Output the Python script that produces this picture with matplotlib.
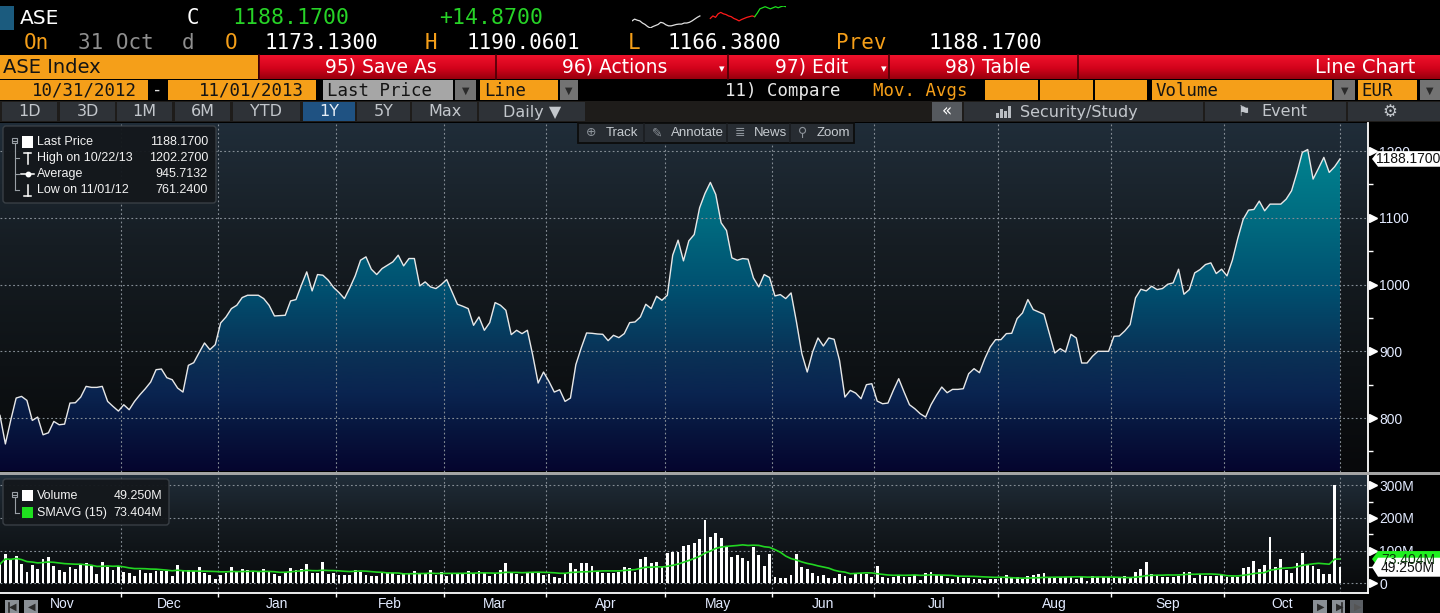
import numpy as np
import pandas as pd
import matplotlib
matplotlib.use("Agg")
import matplotlib.pyplot as plt
from matplotlib.patches import Rectangle, Polygon, FancyBboxPatch
import matplotlib.transforms as mtransforms

# ------------------------------------------------------------------ data
start_date = "2012-10-31"
end_date = "2013-10-31"
holidays = ["2012-12-24", "2012-12-25", "2012-12-26", "2013-01-01", "2013-03-18",
            "2013-03-25", "2013-05-01", "2013-05-03", "2013-05-06", "2013-06-24",
            "2013-08-15", "2013-10-28"]

price = [804, 761.24, 797, 830, 832.5, 826.5, 796.5, 801.5, 775, 778,
         795, 790, 791, 822.5, 823, 831.5, 847.5, 846, 846, 847.5,
         825, 817.5, 810.5, 820, 812.5, 825, 835, 844, 854, 872.5,
         873.5, 860.5, 857.5, 845, 839, 879, 883, 898, 912.5, 902.5,
         910, 942.5, 951.5, 964, 969, 980.5, 984, 984, 984, 979, 969,
         953, 953.5, 954, 975.5, 977.5, 999, 1019, 990.5, 1015, 1014,
         1006.5, 995.5, 988, 979, 995, 1013, 1036.5, 1041.5, 1023, 1015,
         1024, 1029, 1034, 1044, 1028, 1039, 1039, 998, 1004, 996.5,
         994, 1000, 1007.5, 989, 970.5, 967.5, 964, 939, 951.5,
         931.5, 943, 973, 969, 961.5, 925, 931.5, 926.5, 931.5, 894,
         852.5, 869, 855, 839, 842.5, 825, 830, 880, 905, 927.5,
         927, 926, 925.5, 916, 924, 920.5, 926.5, 943, 944, 951.5, 970.5,
         964, 982.5, 976.5, 984, 1044, 1066.5, 1035.5, 1065.5, 1075, 1115,
         1136.5, 1153, 1135, 1092.5, 1081, 1040, 1036.5, 1039, 1038, 1010,
         996.5, 1015, 1010.5, 983, 985, 979, 987.5, 944, 896.5, 869,
         899, 920, 908, 920, 918, 886.5, 831.5, 841.5, 837.5, 829,
         850, 851.5, 825.5, 821.5, 822.5, 841.5, 859, 839, 820, 814,
         806.5, 801.5, 820, 834, 846.5, 838, 843, 843,
         844, 866.5, 874, 868, 889, 906.5, 917.5, 917.5, 926.5, 927,
         949, 957.5, 977.5, 962.5, 959, 955.5, 926.5, 897.5, 904, 899,
         925.5, 920, 882.5, 882.5, 892.5, 900, 900, 900, 922.5, 923, 930.5,
         940, 980, 993, 990.5, 997.5, 992.5, 994, 1000.5, 1002.5, 1023,
         985.5, 992.5, 1017.5, 1022.5, 1030, 1032.5, 1016.5, 1023, 1013, 1036.5,
         1069, 1097.5, 1111.5, 1112.5, 1125, 1110.5, 1120.5, 1120.5, 1120.5, 1128, 1140.5,
         1167.5, 1198, 1202.27, 1158, 1174, 1190.5, 1168, 1176.5, 1188.17]

volume = [59, 90, 71, 84, 59, 36, 56, 44, 74, 80,
          53, 41, 36, 50, 44, 59, 62, 53, 29, 65,
          51, 41, 54, 36, 33, 22, 41, 30, 33, 39,
          39, 39, 22, 55, 41, 41, 39, 50, 33, 26,
          14, 26, 30, 49, 34, 43, 41, 36, 39, 45,
          39, 27, 22, 35, 46, 41, 43, 58, 33, 30,
          65, 28, 33, 26, 26, 26, 41, 35, 26, 22,
          22, 33, 31, 33, 24, 28, 31, 38, 31, 30,
          41, 26, 36, 22, 28, 28, 31, 38, 30, 38,
          31, 22, 33, 41, 61, 33, 28, 22, 33, 36,
          33, 26, 28, 18, 15, 29, 61, 43, 61, 61,
          53, 39, 33, 33, 33, 36, 49, 46, 36, 74,
          80, 61, 65, 49, 94, 97, 97, 114, 117, 124,
          136, 194, 143, 155, 138, 112, 79, 87, 77, 68,
          110, 86, 53, 90, 18, 17, 17, 26, 90, 51,
          44, 31, 22, 26, 15, 15, 29, 22, 17, 33,
          33, 28, 20, 53, 20, 17, 18, 26, 20, 20,
          26, 10, 31, 35, 26, 26, 17, 14, 22,
          17, 15, 12, 12, 10, 12, 14, 17, 24, 18, 18,
          13, 22, 24, 28, 31, 18, 18, 18, 18, 18,
          13, 18, 8, 22, 18, 18, 18, 18, 18, 22,
          18, 35, 44, 65, 29, 22, 18, 18, 18, 22,
          35, 35, 15, 28, 22, 22, 22, 24, 20, 18,
          20, 48, 51, 68, 45, 56, 143, 51, 74, 41,
          33, 61, 94, 56, 53, 44, 29, 29, 300, 49.25]

sma_window = 15
month_labels = ["Nov", "Dec", "Jan", "Feb", "Mar", "Apr", "May", "Jun",
                "Jul", "Aug", "Sep", "Oct"]
price_ticks = [800, 900, 1000, 1100, 1200]
price_minor = [750, 850, 950, 1050, 1150]
volume_ticks = [0, 100, 200, 300]
volume_minor = [50, 150, 250]

legend_rows = [("Last Price", "1188.1700"), ("High on 10/22/13", "1202.2700"),
               ("Average", "945.7132"), ("Low on 11/01/12", "761.2400")]
vol_legend_rows = [("Volume", "49.250M"), ("SMAVG (15)", "73.404M")]
last_price_tag = "1188.1700"
last_vol_tag = "49.250M"
sma_tag = "73.404M"

spark_white = [38, 43, 40, 38, 32, 28, 22, 18, 22, 25, 28, 34, 32, 27, 24, 24, 26,
               28, 29, 29, 32, 32, 34, 38, 43, 48, 52]
spark_red = [45, 52, 48, 58, 62, 58, 56, 52, 50, 45, 42, 38, 42, 45, 48, 50, 52, 50]
spark_green = [50, 60, 72, 75, 78, 75, 72, 75, 78, 75, 78, 80, 78]

# ------------------------------------------------------------------ setup
W, H = 1440, 613
fig = plt.figure(figsize=(W / 100, H / 100), dpi=100, facecolor="black")

MONO = "DejaVu Sans Mono"
UI = "DejaVu Sans"
CH = "Liberation Sans"
ORANGE = "#f59f19"
GREEN_TXT = "#27d327"
TICKC = "#e2eaff"

dates = pd.bdate_range(start_date, end_date)
dates = dates[~dates.isin(pd.to_datetime(holidays))]
assert len(dates) == len(price) == len(volume), (len(dates), len(price), len(volume))
x = np.arange(len(dates))
sma = pd.Series(volume).rolling(sma_window, min_periods=1).mean().values

per = dates.to_period("M")
month_start = [i for i in range(1, len(dates)) if per[i] != per[i - 1]]
edges = [s - 0.5 for s in month_start] + [x[-1]]
bounds = edges[1:]                      # grid lines (Dec..Oct starts + last day)
label_pos = [(edges[i] + edges[i + 1]) / 2 for i in range(len(edges) - 1)]

PX_LAST = 1340.0
xmax = x[-1] / PX_LAST * 1368.0


def fig_axes(x0, y0, x1, y1, **kw):
    return fig.add_axes([x0 / W, 1 - y1 / H, (x1 - x0) / W, (y1 - y0) / H], **kw)


def hexrgb(c):
    c = c.lstrip("#")
    return np.array([int(c[i:i + 2], 16) / 255 for i in (0, 2, 4)])


def vgrad(stops, n=128):
    """stops: list of (pos, color) from top(0) to bottom(1) -> (n,1,3) array"""
    pos = np.array([s[0] for s in stops])
    cols = np.array([hexrgb(s[1]) for s in stops])
    t = np.linspace(0, 1, n)
    arr = np.stack([np.interp(t, pos, cols[:, k]) for k in range(3)], axis=-1)
    return arr.reshape(n, 1, 3)


# ------------------------------------------------------------------ background chrome
bg = fig.add_axes([0, 0, 1, 1])
bg.set_axis_off()
bg.set_zorder(0)


def rect(ax, x0, y0, x1, y1, **kw):
    ax.add_patch(Rectangle((x0, y0), x1 - x0, y1 - y0, **kw))


def txt(ax, xx, yy, s, size, color, family, ha="left", va="center", **kw):
    ax.text(xx, yy, s, fontsize=size, color=color, family=family, ha=ha, va=va, **kw)


# row 1
rect(bg, 0, 6, 14, 30, color="#1b5b7e", lw=0)
txt(bg, 20, 18.5, "ASE", 14.5, "white", UI)
txt(bg, 193, 18.5, "C", 15, "white", MONO, ha="center")
txt(bg, 291, 18.5, "1188.1700", 15.5, GREEN_TXT, MONO, ha="center")
txt(bg, 491, 18.5, "+14.8700", 15.5, GREEN_TXT, MONO, ha="center")

# row 2
row2 = [("On", 36, ORANGE), ("31 Oct", 116, "#8f8f8f"), ("d", 188, "#8f8f8f"),
        ("O", 231, ORANGE), ("1173.1300", 321, "white"), ("H", 431, ORANGE),
        ("1190.0601", 523, "white"), ("L", 634, ORANGE), ("1166.3800", 724, "white"),
        ("Prev", 861, ORANGE), ("1188.1700", 985, "white")]
for s, cx, c in row2:
    txt(bg, cx, 43, s, 15, c, MONO, ha="center")

# row 3
rect(bg, 0, 55, 258, 79, color=ORANGE, lw=0)
txt(bg, 3, 67.5, "ASE Index", 14, "#141414", UI)
bg.imshow(vgrad([(0, "#f0122c"), (0.55, "#d2031b"), (1, "#96000d")]),
          extent=[259, 1440, 79, 55], aspect="auto", interpolation="bilinear", zorder=1)
for sx in [259, 496, 728, 889, 1078]:
    bg.plot([sx, sx], [55, 79], color="#4a0006", lw=1.2, zorder=2)
for s, cx in [("95) Save As", 381), ("96) Actions", 615), ("97) Edit", 812), ("98) Table", 988)]:
    txt(bg, cx, 67, s, 13.5, "white", UI, ha="center", zorder=3)
for ax_ in [722, 884]:
    txt(bg, ax_, 69, "▾", 8, "white", UI, ha="center", zorder=3)
txt(bg, 1415, 67.5, "Line Chart", 14, "white", UI, ha="right", zorder=3)

# row 4
for x0, x1 in [(0, 148), (168, 316), (480, 558), (985, 1038), (1040, 1093), (1095, 1147),
               (1152, 1332), (1358, 1417)]:
    rect(bg, x0, 80, x1, 100, color=ORANGE, lw=0)
rect(bg, 323, 80, 453, 100, color="#a6a6a6", lw=0)
for x0, x1 in [(455, 476), (560, 578), (1334, 1355), (1420, 1440)]:
    rect(bg, x0, 80, x1, 100, color="#737373", lw=0)
    txt(bg, (x0 + x1) / 2, 90.5, "▼", 7, "#2a2a2a", UI, ha="center")
txt(bg, 84, 90.5, "10/31/2012", 12.5, "#141414", MONO, ha="center")
txt(bg, 157, 90, "-", 12.5, "#dddddd", MONO, ha="center")
txt(bg, 251, 90.5, "11/01/2013", 12.5, "#141414", MONO, ha="center")
txt(bg, 327, 90.5, "Last Price", 12.5, "#141414", MONO)
txt(bg, 484, 90.5, "Line", 12.5, "#141414", MONO)
txt(bg, 725, 90.5, "11) Compare", 12.5, "#e8e8e8", MONO)
txt(bg, 873, 90.5, "Mov. Avgs", 12.5, ORANGE, MONO)
txt(bg, 1156, 90.5, "Volume", 12.5, "#141414", MONO)
txt(bg, 1361, 90.5, "EUR", 12.5, "#141414", MONO)

# row 5
rect(bg, 0, 101, 1440, 122, color="#1e1c1a", lw=0)
tabs = [("1D", 2, 57), ("3D", 60, 115), ("1M", 117, 172), ("6M", 175, 230), ("YTD", 233, 300),
        ("1Y", 303, 355), ("5Y", 357, 410), ("Max", 412, 477), ("Daily ▼", 479, 585)]
for s, x0, x1 in tabs:
    sel = s == "1Y"
    rect(bg, x0, 102, x1, 121, color="#1f5282" if sel else "#2e3237", lw=0)
    txt(bg, (x0 + x1) / 2, 112, s, 11.5, "#e6eef6" if sel else "#c3c7cc", UI, ha="center")
rect(bg, 932, 102, 962, 121, color="#55595e", lw=0)
txt(bg, 947, 111.5, "«", 12, "white", UI, ha="center")
rect(bg, 964, 102, 1203, 121, color="#2e3237", lw=0)
for i, hh in enumerate([5, 9, 7, 12]):
    rect(bg, 996 + i * 4, 118 - hh, 998.5 + i * 4, 118, color="#b9bdc2", lw=0)
txt(bg, 1020, 112, "Security/Study", 11.5, "#c3c7cc", UI)
rect(bg, 1205, 102, 1346, 121, color="#2e3237", lw=0)
txt(bg, 1244, 112, "⚑", 10, "#c3c7cc", UI, ha="center")
txt(bg, 1261, 112, "Event", 11.5, "#c3c7cc", UI)
rect(bg, 1348, 102, 1440, 121, color="#2e3237", lw=0)
txt(bg, 1390, 112, "⚙", 12, "#c3c7cc", UI, ha="center")

# bottom nav buttons
for x0, x1, s, c in [(5, 19, "◀", "#2a2a2a"), (24, 38, "◀", "#2a2a2a"),
                     (1313, 1327, "▶", "#2a2a2a"), (1332, 1345, "▶", "#2a2a2a"),
                     (1350, 1363, "▶", "#555555")]:
    rect(bg, x0, 600, x1, 613, color="#8a8f95" if c != "#555555" else "#5b5f64", lw=0)
    txt(bg, (x0 + x1) / 2 + 1, 607, s, 7, c, UI, ha="center")
bg.plot([8.5, 8.5], [602.5, 611.5], color="#2a2a2a", lw=1.2)
bg.plot([1341.5, 1341.5], [602.5, 611.5], color="#2a2a2a", lw=1.2)

bg.set_xlim(0, W)
bg.set_ylim(H, 0)

# ------------------------------------------------------------------ sparkline
sp = fig_axes(632, 6, 786, 28)
sp.set_zorder(6)
sp.set_axis_off()
nw, nr = len(spark_white), len(spark_red)
xw = np.arange(nw)
xr_ = np.arange(nr) + nw + 3
xg = np.arange(len(spark_green)) + xr_[-1]
sp.plot(xw, spark_white, color="#e0e0e0", lw=0.9)
sp.plot(xr_, spark_red, color="#ff1a1a", lw=0.9)
sp.plot(xg, spark_green, color="#1ee01e", lw=0.9)
sp.set_xlim(0, xg[-1])
sp.set_ylim(18, 80)

# ------------------------------------------------------------------ panels
panel_bg = vgrad([(0, "#202d39"), (0.35, "#161d23"), (0.7, "#0e1215"), (1, "#08090b")])
fill_stops = [(0.0, "#008b96"), (0.08, "#00828f"), (0.27, "#006b80"),
              (0.46, "#005070"), (0.65, "#0a3055"), (0.75, "#0a2450"),
              (0.84, "#07173f"), (1.0, "#05002a")]
PY0, PY1 = 720, 1242

axp = fig_axes(0, 123, 1368, 471.5)
axp.set_zorder(5)
axp.patch.set_visible(False)
axp.imshow(panel_bg, extent=[0, 1, 0, 1], transform=axp.transAxes, aspect="auto",
           interpolation="bilinear", zorder=0)
img = axp.imshow(vgrad(fill_stops), extent=[0, xmax, PY0 - 20, PY1], aspect="auto",
                 interpolation="bilinear", zorder=1)
verts = [(x[0], PY0 - 20)] + list(zip(x, price)) + [(x[-1], PY0 - 20)]
poly = Polygon(verts, closed=True, fc="none", ec="none", transform=axp.transData)
axp.add_patch(poly)
img.set_clip_path(poly)
axp.plot(x, price, color="#e8e8e8", lw=1.0, zorder=4)

dots = (0, (1.6, 2.2))
for p in price_ticks:
    axp.axhline(p, color="#858d95", lw=0.8, ls=dots, zorder=3)
for b in bounds:
    axp.axvline(b, color="#858d95", lw=0.8, ls=dots, zorder=3)

axp.set_xlim(0, xmax)
axp.set_ylim(PY0, PY1)
for s in ["top", "left", "bottom"]:
    axp.spines[s].set_visible(False)
axp.spines["right"].set_color("white")
axp.spines["right"].set_linewidth(1.3)
axp.set_xticks([])
axp.yaxis.tick_right()
axp.set_yticks(price_ticks)
axp.set_yticklabels([str(p) for p in price_ticks])
axp.set_yticks(price_minor, minor=True)
axp.tick_params(axis="y", which="major", length=0, pad=8, labelcolor=TICKC,
                labelsize=10)
axp.tick_params(axis="y", which="minor", length=3.3, width=1, color="white")
for lab in axp.get_yticklabels():
    lab.set_family(CH)
trp = mtransforms.blended_transform_factory(axp.transAxes, axp.transData)
axp.plot([1 + 4.5 / 1368] * len(price_ticks), price_ticks, ls="none", marker=">",
         ms=5.5, color="white", mec="white", transform=trp, clip_on=False, zorder=6)

# volume panel
axv = fig_axes(0, 475, 1368, 593)
axv.set_zorder(5)
axv.patch.set_visible(False)
axv.imshow(panel_bg, extent=[0, 1, 0, 1], transform=axv.transAxes, aspect="auto",
           interpolation="bilinear", zorder=0)
for v in volume_ticks:
    axv.axhline(v, color="#858d95", lw=0.8, ls=dots, zorder=1)
for b in bounds:
    axv.axvline(b, color="#858d95", lw=0.8, ls=dots, zorder=1)
axv.bar(x, volume, width=0.52, color="white", lw=0, zorder=3)
axv.plot(x, sma, color="#22d622", lw=1.2, zorder=4)
VY0, VY1 = -29.7, 331.5
axv.set_xlim(0, xmax)
axv.set_ylim(VY0, VY1)
axv.spines["top"].set_visible(False)
axv.spines["left"].set_visible(False)
for s in ["right", "bottom"]:
    axv.spines[s].set_color("white")
    axv.spines[s].set_linewidth(1.3)
axv.yaxis.tick_right()
axv.set_yticks(volume_ticks)
axv.set_yticklabels([f"{v}M" if v else "0" for v in volume_ticks])
axv.set_yticks(volume_minor, minor=True)
axv.tick_params(axis="y", which="major", length=0, pad=8, labelcolor=TICKC, labelsize=10)
axv.tick_params(axis="y", which="minor", length=3.3, width=1, color="white")
axv.set_xticks(bounds[:-1])
axv.set_xticklabels([])
axv.set_xticks(label_pos, minor=True)
axv.set_xticklabels(month_labels, minor=True)
axv.tick_params(axis="x", which="major", length=3, width=1, color="white", direction="out")
axv.tick_params(axis="x", which="minor", length=0, pad=3, labelcolor=TICKC, labelsize=10)
for lab in axv.get_yticklabels() + axv.get_xticklabels(minor=True):
    lab.set_family(CH)
trv = mtransforms.blended_transform_factory(axv.transAxes, axv.transData)
axv.plot([1 + 4.5 / 1368] * len(volume_ticks), volume_ticks, ls="none", marker=">",
         ms=5.5, color="white", mec="white", transform=trv, clip_on=False, zorder=6)

# ------------------------------------------------------------------ overlay
ov = fig.add_axes([0, 0, 1, 1])
ov.set_zorder(10)
ov.set_axis_off()
ov.patch.set_visible(False)


def ypx(ax, v):
    return H - ax.transData.transform((0, v))[1]


# panel separator
rect(ov, 0, 471.5, 1440, 475, color="#a4a4a4", lw=0)

# toolbar
ov.add_patch(FancyBboxPatch((578, 123), 276, 20, boxstyle="square,pad=0",
                            fc="#272c32", ec="#0c0c0c", lw=1.3))
for sx in [644, 727, 790]:
    ov.plot([sx, sx], [124, 142], color="#1a1d21", lw=1.2)
for icon, ix, label, lx in [("⊕", 591, "Track", 606), ("✎", 657, "Annotate", 671),
                            ("≣", 740, "News", 754), ("⚲", 803, "Zoom", 817)]:
    txt(ov, ix, 133, icon, 9, "#8d939a", UI, ha="center")
    txt(ov, lx, 133, label, 9.5, "#c7ccd1", CH)

# price legend
ov.add_patch(FancyBboxPatch((3, 126), 213, 77, boxstyle="round,pad=0,rounding_size=3",
                            fc="#14181c", ec="#3a4046", lw=1, alpha=0.96))
rows_y = [141.7, 158.3, 174.3, 190.3]
for (lab, val), yy in zip(legend_rows, rows_y):
    txt(ov, 37, yy, lab, 9, "#f2f2f2", CH)
    txt(ov, 208, yy, val, 9, "#f2f2f2", CH, ha="right")
TREE = "#9aa0a6"
ov.add_patch(Rectangle((12, 138), 5, 5, fill=False, ec=TREE, lw=0.8))
ov.plot([13, 16], [140.5, 140.5], color=TREE, lw=0.8)
ov.plot([14.5, 14.5], [143.5, 190.3], color=TREE, lw=0.8)
for yy in rows_y[1:]:
    ov.plot([14.5, 18.5], [yy, yy], color=TREE, lw=0.8)
rect(ov, 22, 136, 33, 147.5, color="white", lw=0)
ov.plot([27.5, 27.5], [153, 164], color="white", lw=1.1)
ov.plot([24, 31], [153, 153], color="white", lw=1.1)
ov.plot([21, 34], [174.3, 174.3], color="white", lw=1.1)
ov.plot([27.5], [174.3], marker="o", ms=3.2, color="white")
ov.plot([27.5, 27.5], [185, 196], color="white", lw=1.1)
ov.plot([24, 31], [196, 196], color="white", lw=1.1)

# volume legend
ov.add_patch(FancyBboxPatch((3, 479), 166, 46, boxstyle="round,pad=0,rounding_size=3",
                            fc="#14181c", ec="#3a4046", lw=1, alpha=0.96))
vrows_y = [495.8, 512.6]
for (lab, val), yy in zip(vol_legend_rows, vrows_y):
    txt(ov, 37, yy, lab, 9, "#f2f2f2", CH)
    txt(ov, 162, yy, val, 9, "#f2f2f2", CH, ha="right")
ov.add_patch(Rectangle((12, 492), 5, 5, fill=False, ec=TREE, lw=0.8))
ov.plot([13, 16], [494.5, 494.5], color=TREE, lw=0.8)
ov.plot([14.5, 14.5], [497.5, 512.6], color=TREE, lw=0.8)
ov.plot([14.5, 18.5], [512.6, 512.6], color=TREE, lw=0.8)
rect(ov, 22, 490, 33, 501, color="white", lw=0)
rect(ov, 22, 507, 33, 518, color="#1fe01f", lw=0)


# value tags on the right axis
def tag(yc, half, fc, text, tc, size=10):
    pts = [(1372, yc), (1378, yc - half), (1440, yc - half), (1440, yc + half), (1378, yc + half)]
    ov.add_patch(Polygon(pts, closed=True, fc=fc, ec="none"))
    txt(ov, 1408, yc + 0.5, text, size, tc, CH, ha="center")


tag(ypx(axp, price[-1]), 7.8, "white", last_price_tag, "#101010")
tag(ypx(axv, sma[-1]), 8.0, "#1ff01f", sma_tag, "#0a3a0a")
tag(ypx(axv, volume[-1]), 9.5, "white", last_vol_tag, "#101010")

ov.set_xlim(0, W)
ov.set_ylim(H, 0)

fig.savefig("out.png", dpi=100, facecolor="black")
